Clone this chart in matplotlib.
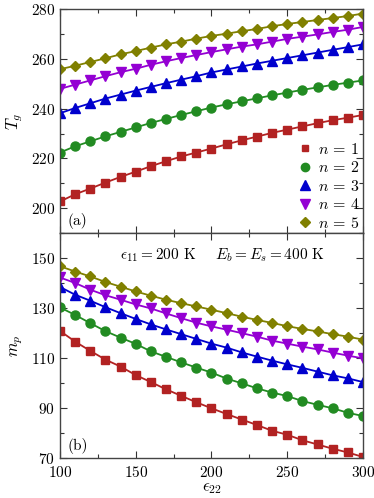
import numpy as np
import matplotlib
matplotlib.use("Agg")
import matplotlib.pyplot as plt
from matplotlib.ticker import MultipleLocator

plt.rcParams["font.family"] = "serif"
plt.rcParams["font.serif"] = ["cmr10", "DejaVu Serif"]
plt.rcParams["mathtext.fontset"] = "cm"
plt.rcParams["axes.formatter.use_mathtext"] = True
plt.rcParams["font.size"] = 11

# ---------------------------
# Data
# ---------------------------
eps22 = [100, 110, 120, 130, 140, 150, 160, 170, 180, 190, 200,
         210, 220, 230, 240, 250, 260, 270, 280, 290, 300]

tg_n1 = [202.7, 205.6, 207.9, 210.3, 212.6, 214.7, 216.9, 218.9, 220.8, 222.4, 224.0,
         225.7, 227.3, 228.8, 230.3, 231.6, 232.9, 234.2, 235.4, 236.4, 237.5]
tg_n2 = [222.4, 224.9, 226.9, 228.9, 230.7, 232.5, 234.3, 235.9, 237.5, 239.0, 240.5,
         241.8, 243.0, 244.2, 245.4, 246.5, 247.6, 248.6, 249.6, 250.5, 251.4]
tg_n3 = [238.2, 240.3, 242.2, 244.1, 245.7, 247.3, 248.8, 250.3, 251.7, 253.1, 254.6,
         255.8, 257.0, 258.2, 259.3, 260.4, 261.5, 262.6, 263.7, 264.8, 265.9]
tg_n4 = [248.0, 249.7, 251.4, 253.1, 254.7, 256.1, 257.7, 259.1, 260.4, 261.6, 262.8,
         263.9, 265.0, 265.9, 267.0, 268.1, 269.0, 269.9, 270.9, 271.8, 272.9]
tg_n5 = [255.9, 257.3, 258.8, 260.3, 261.9, 263.2, 264.6, 265.9, 267.0, 268.2, 269.3,
         270.2, 271.2, 272.1, 273.2, 274.1, 274.9, 275.7, 276.5, 277.3, 278.3]

mp_n1 = [120.8, 116.5, 112.8, 109.3, 106.5, 103.1, 100.3, 97.4, 94.8, 92.2, 89.8,
         87.5, 85.3, 83.1, 80.8, 79.2, 77.0, 75.3, 73.6, 72.1, 70.3]
mp_n2 = [130.2, 127.2, 123.9, 120.7, 118.1, 115.6, 112.6, 110.4, 108.2, 106.1, 104.1,
         101.7, 99.8, 97.8, 96.1, 94.7, 92.7, 91.2, 89.8, 88.0, 86.7]
mp_n3 = [138.4, 135.3, 132.9, 130.3, 127.9, 125.6, 123.4, 121.4, 119.5, 117.6, 115.7,
         114.1, 112.2, 110.5, 108.9, 107.4, 106.0, 104.5, 103.0, 101.8, 100.3]
mp_n4 = [142.2, 140.0, 137.3, 135.1, 133.3, 131.4, 129.8, 127.8, 125.9, 124.1, 122.6,
         121.3, 119.9, 118.5, 116.9, 115.7, 114.5, 113.4, 112.1, 110.9, 109.8]
mp_n5 = [146.7, 144.6, 142.6, 140.4, 138.5, 136.6, 134.9, 133.3, 131.9, 130.6, 129.3,
         127.9, 126.5, 125.2, 124.0, 122.7, 121.6, 120.6, 119.5, 118.5, 117.3]

labels = [r"$n \,=\, 1$", r"$n \,=\, 2$", r"$n \,=\, 3$", r"$n \,=\, 4$", r"$n \,=\, 5$"]
colors = ["#b22222", "#228b22", "#0000cd", "#9400d3", "#808000"]
markers = ["s", "o", "^", "v", "D"]
msizes = [5.5, 6.5, 7, 7, 5.5]

tg_all = [tg_n1, tg_n2, tg_n3, tg_n4, tg_n5]
mp_all = [mp_n1, mp_n2, mp_n3, mp_n4, mp_n5]

# ---------------------------
# Figure
# ---------------------------
fig = plt.figure(figsize=(3.74, 4.98), dpi=100)
ax1 = fig.add_axes([0.1604, 0.532, 0.8102, 0.4493])
ax2 = fig.add_axes([0.1604, 0.0809, 0.8102, 0.4511], sharex=ax1)

for i in range(5):
    ax1.plot(eps22, tg_all[i], color=colors[i], marker=markers[i], ms=msizes[i],
             lw=1.3, mec=colors[i], label=labels[i])
    ax2.plot(eps22, mp_all[i], color=colors[i], marker=markers[i], ms=msizes[i],
             lw=1.3, mec=colors[i])

# legend with markers only
handles = [plt.Line2D([], [], color=colors[i], marker=markers[i], ms=msizes[i] - 0.5,
                      ls="none") for i in range(5)]
ax1.legend(handles, labels, loc="lower right", bbox_to_anchor=(1.015, -0.025),
           frameon=False, handlelength=0.8, handletextpad=0.4, labelspacing=0.22,
           borderaxespad=0.1, fontsize=11.5)

ax1.set_xlim(100, 300)
ax1.set_ylim(190, 280)
ax2.set_ylim(70, 160)

ax1.yaxis.set_major_locator(MultipleLocator(20))
ax1.yaxis.set_minor_locator(MultipleLocator(10))
ax2.yaxis.set_major_locator(MultipleLocator(20))
ax2.yaxis.set_minor_locator(MultipleLocator(10))
ax2.xaxis.set_major_locator(MultipleLocator(50))
ax2.xaxis.set_minor_locator(MultipleLocator(25))

for ax in (ax1, ax2):
    ax.tick_params(which="both", direction="in", top=True, right=True,
                   colors="#333333", labelcolor="black", labelsize=11)
    ax.tick_params(which="major", length=5, width=0.8)
    ax.tick_params(which="minor", length=3, width=0.8)
    for s in ax.spines.values():
        s.set_color("#444444")
        s.set_linewidth(1.0)

ax1.tick_params(labelbottom=False)
ax2.tick_params(axis="x", pad=5)
ax1.set_yticks([200, 220, 240, 260, 280])
ax2.set_yticks([70, 90, 110, 130, 150])
ax2.set_xticks([100, 150, 200, 250, 300])

ax1.set_ylabel("$T_g$", fontsize=12, labelpad=4)
ax2.set_ylabel("$m_p$", fontsize=12, labelpad=4)
ax2.set_xlabel(r"$\epsilon_{22}$", fontsize=12, labelpad=1)

ax1.text(0.025, 0.035, "(a)", transform=ax1.transAxes, fontsize=11)
ax2.text(0.025, 0.035, "(b)", transform=ax2.transAxes, fontsize=11)
ax2.text(0.535, 0.90, r"$\epsilon_{11} = 200$ K    $E_b = E_s = 400$ K",
         transform=ax2.transAxes, ha="center", va="center", fontsize=11)

fig.savefig("out.png", dpi=100)
